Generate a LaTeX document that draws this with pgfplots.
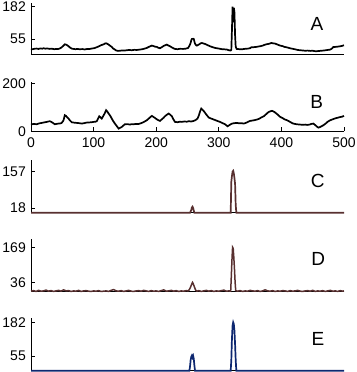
\documentclass[border=0pt]{standalone}
\usepackage{pgfplots}
\pgfplotsset{compat=1.18}
\usepackage{fontspec}
\setmainfont{Liberation Sans}
\definecolor{brn}{RGB}{88,48,48}
\definecolor{nvy}{RGB}{14,40,112}
\pgfplotsset{
  panel/.style={
    scale only axis, width=313pt, anchor=south west,
    xmin=0, xmax=500,
    axis lines*=left,
    axis line style={-, line width=0.8pt, black},
    tick align=inside, major tick length=4pt,
    tick style={line width=0.8pt, black},
    xtick=\empty,
    /pgf/number format/assume math mode=true,
    ticklabel style={font=\fontsize{14}{14}\selectfont},
    yticklabel style={inner sep=0pt, xshift=-5pt},
    clip=false,
  },
}
\begin{document}
\begin{tikzpicture}
\path[use as bounding box] (0pt,0pt) rectangle (356pt,372pt);
% A
\begin{axis}[panel, at={(31pt,317.7pt)}, height=51pt, ymin=-5, ymax=195, ytick={55,182}]
\addplot[black, line width=1.7pt] coordinates {
(0,16)(3,15)(6,17)(9,17.4)(12,16)(15,18)(18,17)(20,18.7)(23,17)(26,18)(30,16.1)(33,17)(37,15)(40,16)(44,16.1)(47,19)(49,22.6)(52,29)(54,34.3)(56,33)(58,30)(60,26.5)(62,22)(65,17.4)(68,16)(71,15)(74,16)(78,14.8)(82,15.5)(86,14)(90,16)(94,16.1)(98,18)(101,19)(105,22.6)(109,27)(113,31.7)(116,34)(118,37)(120,38.2)(122,36)(124,33)(126,29.1)(129,24)(131,18)(134,13.5)(136,10)(139,8.3)(142,9)(145,10)(149,9.5)(153,10.9)(157,12)(161,11)(165,12.5)(169,12)(174,13.5)(178,15)(181,17)(185,20)(189,25)(193,29.1)(196,27)(198,25)(201,23.9)(203,21)(206,18.7)(209,23)(212,28)(215,31)(217,33)(219,30)(222,26.5)(225,22)(228,18)(230,16.1)(234,15)(238,16.5)(243,16.1)(247,17)(251,20)(253,28)(255,39.4)(256,50)(257,55)(259,56)(260,55)(261,45)(262,36.9)(264,30)(265,29.1)(268,33)(271,38)(273,39.4)(276,37)(278,35.6)(282,31)(286,26.5)(290,23)(294,20)(297,18.7)(301,17)(305,15)(309,14.5)(313,13.5)(316,11)(319,9.6)(320,12)(321,90)(322,182)(323,120)(324,178)(325,160)(326,70)(327,25)(328.5,16.1)(331,15.5)(334,14.8)(338,15)(342,16.5)(347,17.4)(350,19)(352,22.6)(356,23)(360,24)(363,25.5)(366,26.5)(370,29)(373,32)(376,34.3)(380,36)(384,39.4)(387,38)(390,36.9)(394,33)(398,29.1)(402,27)(405,24)(408,22.6)(412,20)(415,18)(419,16.1)(423,14)(426,12)(430,10.9)(434,10)(438,9)(442,9.5)(446,8.3)(450,9)(453,7.5)(456,7)(460,8)(464,9)(467,9.6)(471,11)(474,12)(478,13.5)(481,18)(483,23.9)(486,24)(490,25)(494,26.5)(497,28)(500,30.4)
};
\end{axis}
% B
\begin{axis}[panel, at={(31pt,240.7pt)}, height=49.6pt, ymin=0, ymax=207, ytick={0,200},
  xtick={0,100,200,300,400,500}, xticklabel style={inner sep=0pt, yshift=-6pt, anchor=north}]
\addplot[black, line width=1.7pt] coordinates {
(0,28)(4,31)(9,29.4)(13,33)(17,35)(21,37)(25,39.2)(28,41)(30,42)(32,40)(35,35)(38,29.4)(41,31)(44,32.2)(47,33)(49,35)(51,42)(52,46.2)(54,67.1)(56,64)(58,58)(60,53.1)(62,46)(65,37.8)(69,36)(73,35)(77,34)(81,32.2)(85,34)(89,36.4)(93,37)(97,38)(100,39.2)(103,40)(105,42)(107,52)(109,62.9)(111,58)(113,53.1)(115,62)(117,71.3)(119,82)(120,88.1)(122,82)(124,74.1)(127,63)(129,53.1)(131,44)(134,32.2)(137,22)(140,11.2)(142,14)(145,18.2)(147,23)(150,29.4)(154,30)(158,28)(161,30)(164,29.4)(168,31)(171,30)(174,32.2)(178,36)(181,40)(185,46.2)(188,53)(191,60)(193,64.3)(195,61)(198,55.9)(201,50)(203,47)(206,43.4)(209,50)(212,57)(214,62.9)(217,69)(220,74.1)(222,70)(225,62.9)(227,52)(230,39.2)(234,38)(238,40)(241,39.2)(245,41)(249,40)(252,42)(256,41)(260,43.4)(263,47)(266,53.1)(268,65)(270,82)(272,95.1)(274,90)(277,81.1)(280,70)(284,57.3)(288,53)(292,49)(296,45)(299,42)(302,39.2)(306,34)(310,29.4)(312,25)(314,21)(317,26)(321,32.2)(325,34)(329,35)(333,33)(336,34)(340,32.2)(344,36)(347,40)(350,43.4)(354,45)(358,47)(361,49)(365,53)(368,58)(372,62.9)(375,70)(378,77)(380,81.1)(383,84)(385,85.3)(388,82)(390,78.3)(394,70)(398,60.1)(402,55)(405,50)(409,46.2)(412,42)(416,36)(419,32.2)(423,30)(426,29)(430,28)(434,27)(438,28)(441,26.6)(445,28)(448,31)(451,32.2)(454,26)(457,19)(459,15.4)(462,18)(464,21)(467,25.2)(471,33)(474,40)(478,46.2)(482,50)(486,54)(489,55.9)(493,59)(497,61)(500,64.3)
};
\end{axis}
% C
\begin{axis}[panel, at={(31pt,159.3pt)}, height=52.7pt, ymin=0, ymax=201, ytick={18,157}]
\addplot[brn, line width=1.7pt] coordinates {
(0,0)(254,0)(256,10)(257,20)(258,23)(259,18)(260,8)(261,0)(319,0)(320,118)(321,140)(322,157)(323,160)(324,150)(325,132)(326,110)(327,30)(328,0)(500,0)
};
\end{axis}
% D
\begin{axis}[panel, at={(31pt,80.3pt)}, height=52.7pt, ymin=2, ymax=200, ytick={36,169}]
\addplot[brn, line width=1.5pt] coordinates {
(0,4)(4,6)(8,3)(12,7)(16,4)(20,5)(24,8)(28,4)(32,6)(36,3)(40,5)(44,7)(48,4)(52,9)(56,5)(60,6)(64,3)(68,5)(72,4)(76,7)(80,3)(84,5)(88,6)(92,4)(96,3)(100,5)(104,4)(108,6)(112,3)(116,4)(120,5)(124,3)(128,7)(132,10)(136,5)(140,4)(144,6)(148,3)(152,5)(156,7)(160,4)(164,3)(168,5)(172,6)(176,4)(180,7)(184,5)(188,3)(192,6)(196,4)(200,5)(204,3)(208,6)(212,9)(216,4)(220,5)(224,7)(228,4)(232,6)(236,3)(240,5)(244,4)(248,6)(251,5)(253,10)(255,20)(257,32)(258,37)(259,33)(261,20)(263,8)(265,4)(268,6)(272,3)(276,5)(280,7)(284,4)(288,6)(292,3)(296,5)(300,4)(304,6)(308,8)(312,4)(316,5)(319,4)(320,60)(321,120)(322,169)(323,165)(324,130)(325,90)(326,40)(327,6)(330,4)(334,6)(338,3)(342,5)(346,4)(350,7)(354,5)(358,4)(362,6)(366,3)(370,5)(374,9)(378,5)(382,4)(386,6)(390,3)(394,5)(398,4)(402,6)(406,5)(410,3)(414,6)(418,4)(422,5)(426,7)(430,4)(434,3)(438,5)(442,6)(446,4)(450,7)(454,3)(458,5)(462,4)(466,6)(470,3)(474,5)(478,7)(482,4)(486,5)(490,3)(494,6)(498,4)(500,5)
};
\end{axis}
% E
\begin{axis}[panel, at={(31pt,1.3pt)}, height=52.4pt, ymin=0, ymax=197, ytick={55,182}]
\addplot[nvy, line width=1.7pt] coordinates {
(0,0)(253,0)(254,15)(255,40)(256,52)(257,57)(258,50)(259,56)(260,45)(261,20)(262,0)(319,0)(320,40)(321,120)(322,170)(323,182)(324,175)(325,150)(326,100)(327,40)(328,0)(500,0)
};
\end{axis}
\begin{scope}[every node/.style={font=\fontsize{19}{19}\selectfont, inner sep=0pt}]
\node at (317pt,348.5pt) {A};
\node at (316.7pt,270.3pt) {B};
\node at (317.7pt,191.3pt) {C};
\node at (318.3pt,112.7pt) {D};
\node at (318pt,33.3pt) {E};
\end{scope}
\end{tikzpicture}
\end{document}
